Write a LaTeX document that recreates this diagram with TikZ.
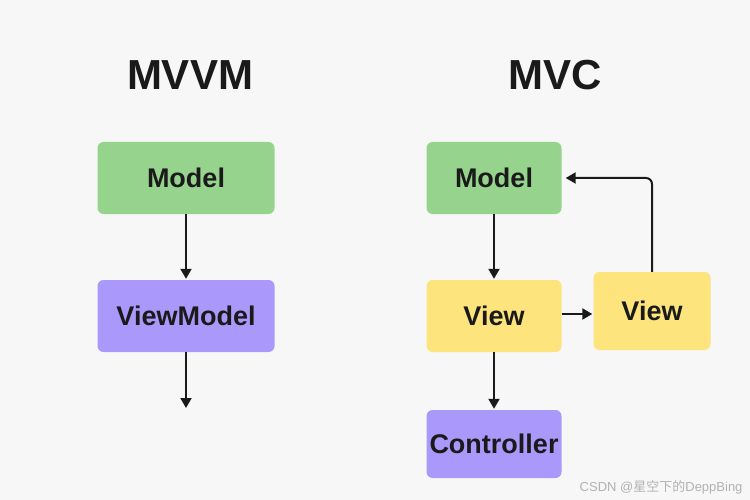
\documentclass[tikz,border=0pt]{standalone}
\usepackage{fontspec}
\setmainfont{Liberation Sans}
\newfontfamily\cjk{Noto Sans CJK SC}
\usetikzlibrary{positioning, arrows.meta, calc}
\definecolor{bgcol}{RGB}{247,247,247}
\definecolor{modelgreen}{RGB}{150,212,142}
\definecolor{viewyellow}{RGB}{253,228,125}
\definecolor{vmpurple}{RGB}{170,152,250}
\definecolor{inkcol}{RGB}{26,26,26}

\begin{document}
\begin{tikzpicture}[x=1pt, y=-1pt,
	box/.style={rounded corners=6pt, inner sep=0pt, text=inkcol,
		font=\fontsize{27}{30}\selectfont\bfseries},
	arr/.style={-{Triangle[length=10pt, width=11pt]}, line width=2pt, draw=inkcol},
	title/.style={text=inkcol, font=\fontsize{42}{46}\selectfont\bfseries}]
	\useasboundingbox[fill=bgcol] (0,0) rectangle (750,500);
	% titles
	\node[title] (mvvmTitle) at (190,75) {MVVM};
	\node[title] (mvcTitle) at (555,75) {MVC};
	% MVVM column
	\node[box, fill=modelgreen, minimum width=177pt, minimum height=72pt] (mvvmModel) at (186,178) {Model};
	\node[box, fill=vmpurple, minimum width=177pt, minimum height=72pt] (mvvmVM) at (186,316) {ViewModel};
	\coordinate (mvvmEnd) at (186,408);
	\draw[arr, shorten >=1pt] (mvvmModel) -- (mvvmVM);
	\draw[arr] (mvvmVM) -- (mvvmEnd);
	% MVC column
	\node[box, fill=modelgreen, minimum width=135pt, minimum height=72pt] (mvcModel) at (494,178) {Model};
	\node[box, fill=viewyellow, minimum width=135pt, minimum height=72pt] (mvcView) at (494,316) {View};
	\node[box, fill=viewyellow, minimum width=117pt, minimum height=78pt] (mvcView2) at (652,311) {View};
	\node[box, fill=vmpurple, minimum width=135pt, minimum height=68pt] (mvcCtrl) at (494,444) {Controller};
	\draw[arr, shorten >=1pt] (mvcModel) -- (mvcView);
	\draw[arr, shorten >=1pt] ([yshift=2pt]mvcView.east) -- ([yshift=2pt]mvcView.east -| mvcView2.west);
	\draw[arr, shorten >=1pt] (mvcView) -- (mvcCtrl);
	\draw[arr, rounded corners=6pt, shorten >=4pt] (mvcView2.north) |- (mvcModel.east);
	% watermark
	\node[anchor=east, text=black!30, font=\fontsize{13}{15}\selectfont] (mark) at (746,487) {CSDN @{\cjk 星空下的}DeppBing};
\end{tikzpicture}
\end{document}
